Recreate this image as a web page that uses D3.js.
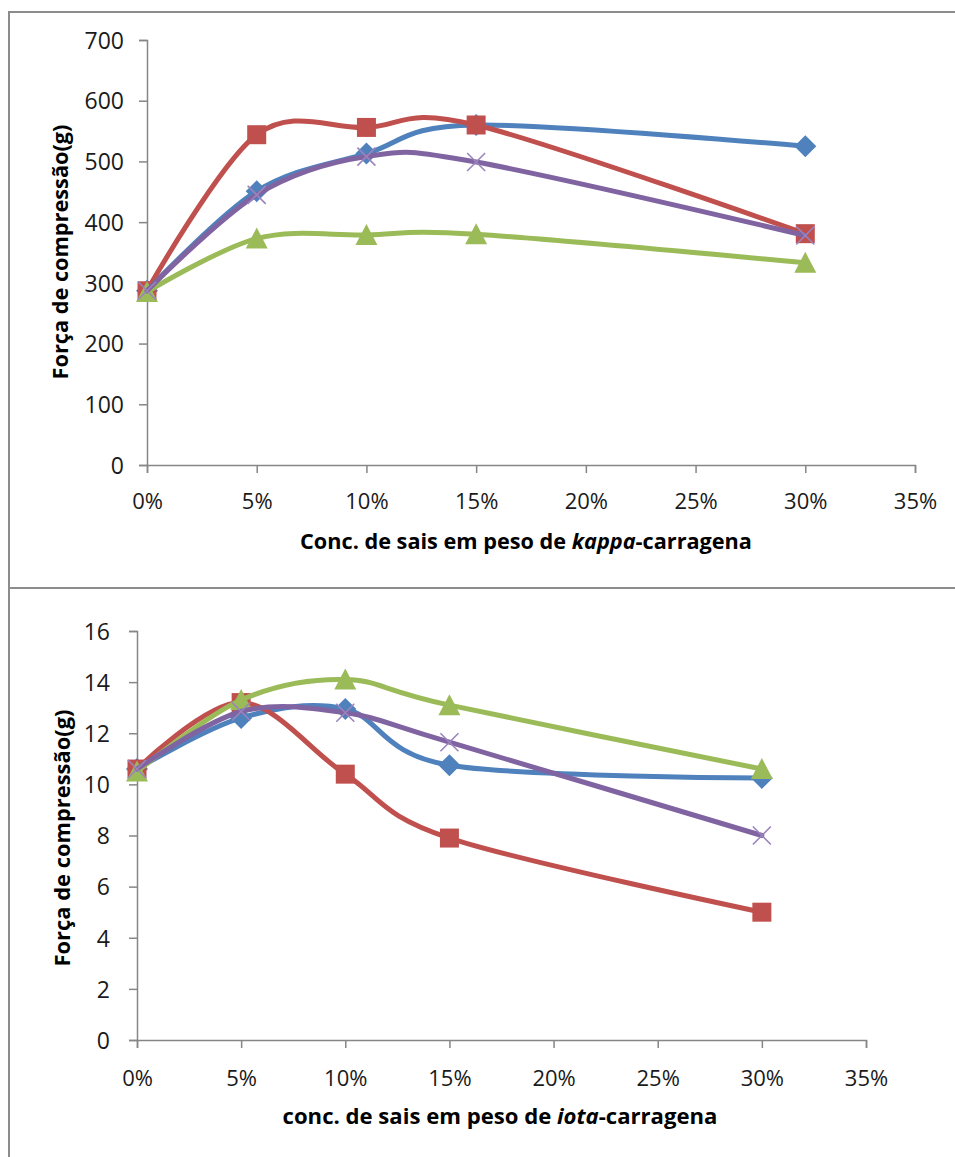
<!DOCTYPE html>
<html><head><meta charset="utf-8">
<script src="https://cdn.jsdelivr.net/npm/d3@7"></script>
<style>body{margin:0;background:#fff}</style>
</head><body>
<svg id="c" width="955" height="1157"></svg>
<script>
// ---- data ----
const xValues = [0, 0.05, 0.10, 0.15, 0.30];
const xTicks = [0, 0.05, 0.10, 0.15, 0.20, 0.25, 0.30, 0.35];
const xTickLabels = ["0%", "5%", "10%", "15%", "20%", "25%", "30%", "35%"];

const kappaYTicks = [0, 100, 200, 300, 400, 500, 600, 700];
const kappaSeries1 = [287, 451, 513, 560, 525];
const kappaSeries2 = [287, 544, 556, 560, 381];
const kappaSeries3 = [285, 373, 379, 380, 333];
const kappaSeries4 = [287, 445, 508, 499, 378];

const iotaYTicks = [0, 2, 4, 6, 8, 10, 12, 14, 16];
const iotaSeries1 = [10.6, 12.6, 12.95, 10.75, 10.25];
const iotaSeries2 = [10.6, 13.2, 10.4, 7.9, 5.0];
const iotaSeries3 = [10.5, 13.3, 14.1, 13.1, 10.6];
const iotaSeries4 = [10.6, 12.85, 12.8, 11.65, 8.0];

const colors = ["#4F81BD", "#C0504D", "#9BBB59", "#8064A2"];
const markers = ["diamond", "square", "triangle", "x"];

const yTitle = "Força de compressão(g)";

// ---- drawing ----
const svg = d3.select("#c");
svg.append("rect").attr("width", 955).attr("height", 1157).attr("fill", "#fff");

// frame lines
const frame = svg.append("g").attr("stroke", "#8c8c8c").attr("stroke-width", 2).attr("fill", "none");
frame.append("path").attr("d", "M9,1157V12H955");
frame.append("path").attr("d", "M9,588H955");

function markerPath(type) {
  const p = d3.path();
  if (type === "diamond") { p.moveTo(0,-11); p.lineTo(11,0); p.lineTo(0,11); p.lineTo(-11,0); p.closePath(); }
  else if (type === "square") { p.rect(-9.5,-9.5,19,19); }
  else if (type === "triangle") { p.moveTo(0,-11); p.lineTo(11,10); p.lineTo(-11,10); p.closePath(); }
  else { p.moveTo(-9,-9); p.lineTo(9,9); p.moveTo(9,-9); p.lineTo(-9,9); }
  return p.toString();
}

function fitText(sel, target) {
  const size = parseFloat(sel.attr("font-size"));
  const len = sel.node().getComputedTextLength();
  sel.attr("font-size", (size * target / len).toFixed(2));
}

function drawPanel(cfg) {
  const x = d3.scaleLinear().domain([0, 0.35]).range([cfg.xL, cfg.xR]);
  const y = d3.scaleLinear().domain([0, cfg.yMax]).range([cfg.yB, cfg.yT]);
  const g = svg.append("g");

  // y axis
  const ya = g.append("g").attr("transform", `translate(${cfg.xL},0)`)
    .call(d3.axisLeft(y).tickValues(cfg.yTicks).tickSize(8).tickFormat(d3.format("d")));
  ya.select(".domain").attr("stroke", "#868686").attr("stroke-width", 1.5);
  ya.selectAll(".tick line").attr("stroke", "#868686").attr("stroke-width", 1.5);
  ya.selectAll(".tick text").attr("x", -cfg.yLabGap).attr("dy", "0.36em")
    .attr("font-family", "'Open Sans', sans-serif").attr("font-size", 23).attr("fill", "#1a1a1a");

  // x axis
  const xa = g.append("g").attr("transform", `translate(0,${cfg.yB})`)
    .call(d3.axisBottom(x).tickValues(xTicks).tickSize(8).tickFormat((d, i) => xTickLabels[i]));
  xa.select(".domain").attr("stroke", "#868686").attr("stroke-width", 1.5);
  xa.selectAll(".tick line").attr("stroke", "#868686").attr("stroke-width", 1.5);
  xa.selectAll(".tick text").attr("y", cfg.xLabOff).attr("dy", "0.36em")
    .attr("font-family", "'Open Sans', sans-serif").attr("font-size", 22).attr("fill", "#1a1a1a");

  // series
  const line = d3.line().x((d, i) => x(xValues[i])).y(d => y(d)).curve(d3.curveCardinal.tension(0));
  cfg.series.forEach((vals, si) => {
    const sg = g.append("g");
    sg.append("path").attr("d", line(vals)).attr("fill", "none")
      .attr("stroke", colors[si]).attr("stroke-width", 5)
      .attr("stroke-linecap", "round").attr("stroke-linejoin", "round");
    const m = sg.selectAll("path.m").data(vals).join("path").attr("class", "m")
      .attr("d", markerPath(markers[si]))
      .attr("transform", (d, i) => `translate(${x(xValues[i])},${y(d)})`);
    if (markers[si] === "x") m.attr("fill", "none").attr("stroke", "#9a84bd").attr("stroke-width", 1.6);
    else m.attr("fill", colors[si]).attr("stroke", "none");
  });

  // axis titles
  const xt = g.append("text").attr("x", cfg.xTitleX).attr("y", cfg.xTitleY)
    .attr("text-anchor", "middle").attr("font-family", "'Open Sans', sans-serif")
    .attr("font-weight", "bold").attr("font-size", 20).attr("fill", "#000");
  xt.append("tspan").text(cfg.xTitle[0]);
  xt.append("tspan").attr("font-style", "italic").text(cfg.xTitle[1]);
  xt.append("tspan").text(cfg.xTitle[2]);
  fitText(xt, cfg.xTitleLen);

  const yt = g.append("text").attr("transform", `translate(${cfg.yTitleX},${cfg.yTitleY}) rotate(-90)`)
    .attr("text-anchor", "middle").attr("font-family", "'Open Sans', sans-serif")
    .attr("font-weight", "bold").attr("font-size", 20).attr("fill", "#000").text(yTitle);
  fitText(yt, cfg.yTitleLen);
}

drawPanel({
  xL: 147, xR: 915, yB: 465, yT: 40, yMax: 700, yTicks: kappaYTicks, yLabGap: 23, xLabOff: 36,
  series: [kappaSeries1, kappaSeries2, kappaSeries3, kappaSeries4],
  xTitle: ["Conc. de sais em peso de ", "kappa", "-carragena"], xTitleX: 526, xTitleY: 549, xTitleLen: 452,
  yTitleX: 68, yTitleY: 252, yTitleLen: 255
});
drawPanel({
  xL: 137, xR: 866, yB: 1040, yT: 631, yMax: 16, yTicks: iotaYTicks, yLabGap: 27, xLabOff: 38,
  series: [iotaSeries1, iotaSeries2, iotaSeries3, iotaSeries4],
  xTitle: ["conc. de sais em peso de ", "iota", "-carragena"], xTitleX: 500, xTitleY: 1124, xTitleLen: 435,
  yTitleX: 70, yTitleY: 838, yTitleLen: 257
});
</script>
</body></html>
